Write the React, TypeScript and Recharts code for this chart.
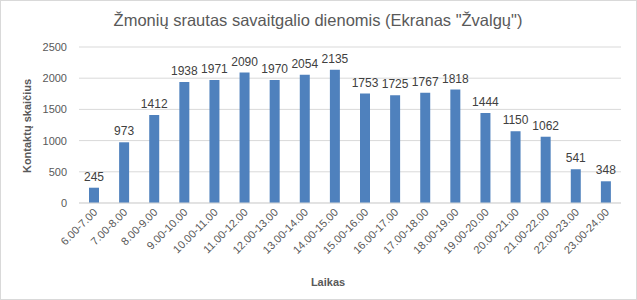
import React from "react";
import { BarChart, Bar, XAxis, YAxis, CartesianGrid, LabelList } from "recharts";

const categories = [
  "6.00-7.00", "7.00-8.00", "8.00-9.00", "9.00-10.00", "10.00-11.00", "11.00-12.00",
  "12.00-13.00", "13.00-14.00", "14.00-15.00", "15.00-16.00", "16.00-17.00", "17.00-18.00",
  "18.00-19.00", "19.00-20.00", "20.00-21.00", "21.00-22.00", "22.00-23.00", "23.00-24.00",
];
const contacts = [245, 973, 1412, 1938, 1971, 2090, 1970, 2054, 2135, 1753, 1725, 1767, 1818, 1444, 1150, 1062, 541, 348];
const yTicks = [0, 500, 1000, 1500, 2000, 2500];

const title = "Žmonių srautas savaitgalio dienomis (Ekranas \"Žvalgų\")";
const yTitle = "Kontaktų skaičius";
const xTitle = "Laikas";

const data = categories.map((c, i) => ({ name: c, value: contacts[i] }));

const FONT = "'Liberation Sans', Arial, sans-serif";

const XTick = (props: any) => {
  const { x, y, payload } = props;
  const ax = x + 4;
  const ay = y + 10;
  return (
    <text
      x={ax}
      y={ay}
      transform={`rotate(-45, ${ax}, ${ay})`}
      textAnchor="end"
      fontSize={11}
      fontFamily={FONT}
      fill="#595959"
    >
      {payload.value}
    </text>
  );
};

export default function App() {
  return (
    <div
      style={{
        position: "absolute",
        left: 0,
        top: 0,
        width: 637,
        height: 300,
        boxSizing: "border-box",
        border: "1px solid #d9d9d9",
        background: "#fff",
      }}
    >
      <BarChart
        width={635}
        height={298}
        data={data}
        margin={{ top: 46, right: 15, bottom: 66, left: 0 }}
        style={{ fontFamily: FONT }}
      >
        <text x={317} y={25} textAnchor="middle" fontSize={16.5} fontFamily={FONT} fill="#595959">
          {title}
        </text>
        <text
          x={30}
          y={125}
          transform="rotate(-90, 30, 125)"
          textAnchor="middle"
          fontSize={11}
          fontWeight="bold"
          fontFamily={FONT}
          fill="#595959"
        >
          {yTitle}
        </text>
        <text x={327} y={285} textAnchor="middle" fontSize={11} fontWeight="bold" fontFamily={FONT} fill="#595959">
          {xTitle}
        </text>
        <CartesianGrid vertical={false} stroke="#d9d9d9" />
        <XAxis
          dataKey="name"
          height={30}
          interval={0}
          tickLine={false}
          tickSize={0}
          tickMargin={0}
          axisLine={{ stroke: "#d9d9d9" }}
          tick={<XTick />}
        />
        <YAxis
          width={78}
          domain={[0, 2500]}
          ticks={yTicks}
          axisLine={false}
          tickLine={false}
          tickSize={0}
          tickMargin={12}
          tick={{ fontSize: 11, fill: "#595959", fontFamily: FONT }}
        />
        <Bar dataKey="value" fill="#4f81bd" barSize={10} isAnimationActive={false}>
          <LabelList dataKey="value" position="top" offset={7} fontSize={12} fill="#404040" fontFamily={FONT} />
        </Bar>
      </BarChart>
    </div>
  );
}
